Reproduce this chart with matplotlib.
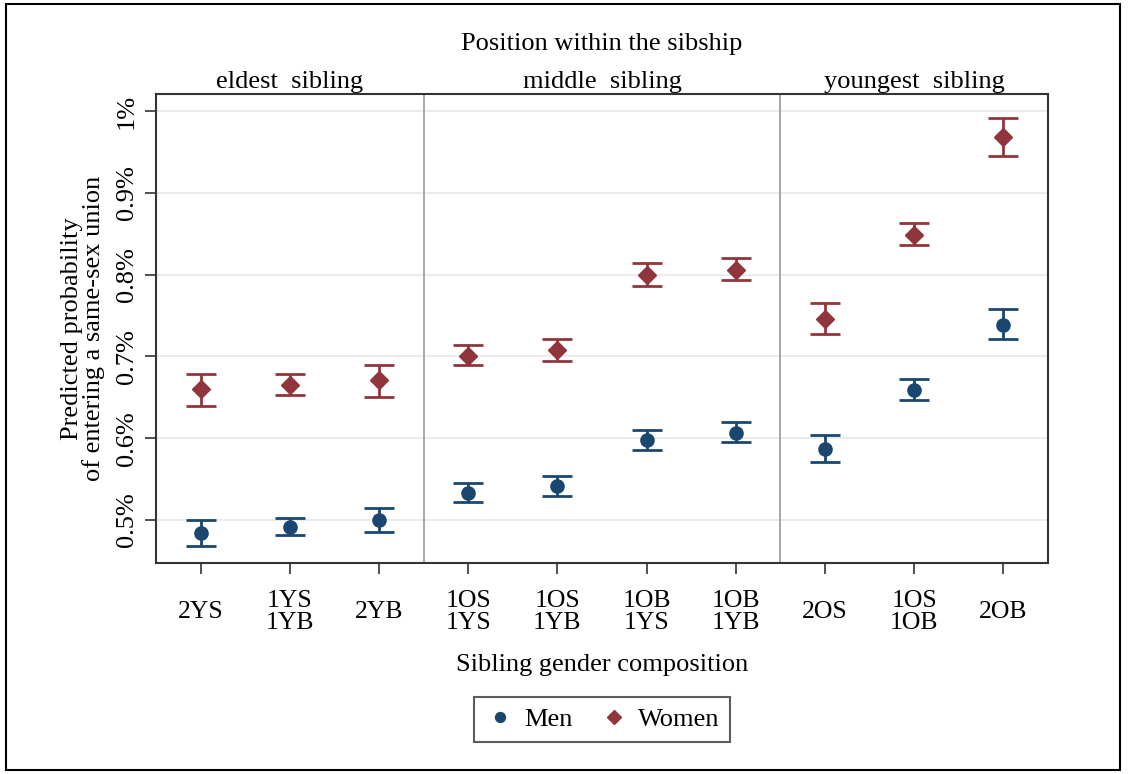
import numpy as np
import matplotlib
matplotlib.use("Agg")
import matplotlib.pyplot as plt
from matplotlib.patches import Rectangle

plt.rcParams['font.family'] = ['Liberation Serif', 'DejaVu Serif']

# data (percent)
categories = ["2YS", "1YS\n1YB", "2YB", "1OS\n1YS", "1OS\n1YB", "1OB\n1YS", "1OB\n1YB",
              "2OS", "1OS\n1OB", "2OB"]
men = [0.484, 0.492, 0.500, 0.533, 0.542, 0.598, 0.607, 0.587, 0.659, 0.739]
men_lo = [0.468, 0.482, 0.485, 0.522, 0.530, 0.586, 0.596, 0.571, 0.647, 0.721]
men_hi = [0.500, 0.502, 0.515, 0.545, 0.554, 0.610, 0.620, 0.604, 0.672, 0.758]
women = [0.660, 0.665, 0.671, 0.701, 0.708, 0.800, 0.806, 0.746, 0.849, 0.968]
women_lo = [0.639, 0.653, 0.651, 0.690, 0.695, 0.786, 0.793, 0.727, 0.836, 0.945]
women_hi = [0.679, 0.678, 0.690, 0.714, 0.721, 0.814, 0.820, 0.765, 0.863, 0.991]
groups = ["eldest  sibling", "middle  sibling", "youngest  sibling"]
group_sizes = [3, 4, 3]
yticks = [0.5, 0.6, 0.7, 0.8, 0.9, 1.0]
ytick_labels = ["0.5%", "0.6%", "0.7%", "0.8%", "0.9%", "1%"]

navy = "#1a476f"
maroon = "#90353b"
FS = 19

fig = plt.figure(figsize=(11.28, 7.74), dpi=100)
ax = fig.add_axes([156/1128, 1 - 563/774, (1048-156)/1128, (563-94)/774])

x = np.arange(1, len(categories) + 1)

def draw(vals, lo, hi, color, marker, ms, label):
    vals = np.array(vals)
    err = [vals - np.array(lo), np.array(hi) - vals]
    ax.errorbar(x, vals, yerr=err, fmt='none', ecolor=color, elinewidth=2,
                capsize=11, capthick=2, zorder=3)
    ax.plot(x, vals, linestyle='none', marker=marker, ms=ms, color=color,
            label=label, zorder=4)

draw(men, men_lo, men_hi, navy, 'o', 9.5, "Men")
draw(women, women_lo, women_hi, maroon, 'D', 9.5, "Women")

ymin, ymax = 0.4476, 1.0207
ax.set_xlim(0.5, len(categories) + 0.5)
ax.set_ylim(ymin, ymax)
ax.set_yticks(yticks)
ax.set_yticklabels(ytick_labels, rotation=90, va='center', fontsize=FS)
ax.set_xticks(x)
ax.set_xticklabels(categories, fontsize=18.5, linespacing=1.0, va='center')
ax.tick_params(axis='both', length=8, width=1.2, color='#333333')
ax.tick_params(axis='y', pad=5)
ax.tick_params(axis='x', pad=27)
ax.grid(axis='y', color='#e8eaea', linewidth=1.3)
ax.set_axisbelow(True)
for s in ax.spines.values():
    s.set_color('#333333')
    s.set_linewidth(1.5)

# section dividers and labels
edges = np.cumsum(group_sizes)
for e in edges[:-1]:
    ax.axvline(e + 0.5, color='#a0a0a0', linewidth=1.3, zorder=1)
start = 0.5
for g, n in zip(groups, group_sizes):
    ax.text(start + n / 2, ymax + 0.001, g, ha='center', va='bottom', fontsize=FS)
    start += n
fig.text((156 + 1048) / 2 / 1128, 1 - 44/774, "Position within the sibship",
         ha='center', va='center', fontsize=FS)

ax.set_ylabel("Predicted probability\nof entering a same-sex union", fontsize=FS,
              labelpad=8, linespacing=0.92)
ax.xaxis.set_label_coords(0.5, -(665 - 563) / (563 - 94))
ax.set_xlabel("Sibling gender composition", fontsize=FS, va='center')

leg = ax.legend(loc='upper center', bbox_to_anchor=(0.5, -(697 - 563) / (563 - 94)),
                ncol=2, fontsize=FS, frameon=True, fancybox=False, edgecolor='#333333',
                handletextpad=0.3, columnspacing=1.0, markerscale=0.75, borderpad=0.4,
                handlelength=1.2, borderaxespad=0)
leg.get_frame().set_linewidth(1.5)

fig.patches.append(Rectangle((6/1128, 4/774), 1114/1128, 766/774, transform=fig.transFigure,
                             fill=False, edgecolor='black', linewidth=1.5))

fig.savefig("out.png", dpi=100)
